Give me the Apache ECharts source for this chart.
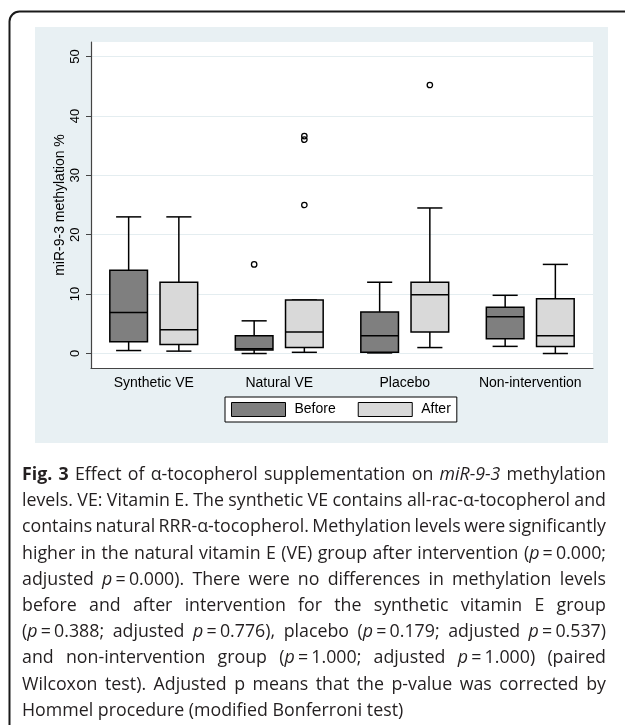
<!DOCTYPE html>
<html><head><meta charset="utf-8">
<script src="https://cdn.jsdelivr.net/npm/echarts@6/dist/echarts.min.js"></script>
<style>html,body{margin:0;padding:0;background:#fff}#c{width:625px;height:725px}</style>
</head><body><div id="c"></div>
<script>
// ---------- data ----------
const categories = ['Synthetic VE', 'Natural VE', 'Placebo', 'Non-intervention'];
// each box: [lower whisker, Q1, median, Q3, upper whisker]
const beforeBoxes = [
  [0.5, 2.0, 6.9, 14.0, 23.0],
  [0.0, 0.6, 0.8, 3.0, 5.5],
  [0.1, 0.2, 3.0, 7.0, 12.0],
  [1.2, 2.5, 6.2, 7.8, 9.8]
];
const afterBoxes = [
  [0.4, 1.5, 4.0, 12.0, 23.0],
  [0.2, 1.0, 3.6, 9.0, 9.0],
  [1.0, 3.6, 9.9, 12.0, 24.5],
  [0.0, 1.2, 3.0, 9.2, 15.0]
];
// outliers: [category index, value]
const beforeOutliers = [[1, 15.0]];
const afterOutliers = [[1, 25.0], [1, 36.0], [1, 36.6], [2, 45.2]];
const yTicks = [0, 10, 20, 30, 40, 50];
const seriesNames = ['Before', 'After'];
const yTitle = 'miR-9-3 methylation %';
// '#' toggles bold, '*' toggles italic, '~' is a narrow (non-stretching) space
const captionLines = [
  '#Fig. 3# Effect of \u03b1-tocopherol supplementation on *miR-9-3* methylation',
  'levels. VE: Vitamin E. The synthetic VE contains all-rac-\u03b1-tocopherol and',
  'contains natural RRR-\u03b1-tocopherol. Methylation levels were significantly',
  'higher in the natural vitamin E (VE) group after intervention (*p*~=~0.000;',
  'adjusted *p*~=~0.000). There were no differences in methylation levels',
  'before and after intervention for the synthetic vitamin E group',
  '(*p*~=~0.388; adjusted *p*~=~0.776), placebo (*p*~=~0.179; adjusted *p*~=~0.537)',
  'and non-intervention group (*p*~=~1.000; adjusted *p*~=~1.000) (paired',
  'Wilcoxon test). Adjusted p means that the p-value was corrected by',
  'Hommel procedure (modified Bonferroni test)'
];

// ---------- helpers ----------
const FONT = 'Liberation Sans, Arial, sans-serif';
const CAP_FONT = 'Open Sans';
const CAP_SIZE = 17.8;
const CAP_LEFT = 22, CAP_RIGHT = 606, CAP_TOP = 475, CAP_STEP = 26.2;
const CAP_COLOR = '#231f20';

function boxRenderer(side, fill) {
  return function (params, api) {
    const cat = api.value(0);
    const band = api.size([1, 0])[0];
    const cx = api.coord([cat, 0])[0] + side * band * 0.2;
    const w = band * 0.3;
    const cap = w * 0.667;
    const y = i => api.coord([cat, api.value(i)])[1];
    const lo = y(1), q1 = y(2), med = y(3), q3 = y(4), hi = y(5);
    const st = { stroke: '#000', lineWidth: 1.5, fill: null };
    return {
      type: 'group', children: [
        { type: 'line', shape: { x1: cx, y1: q3, x2: cx, y2: hi }, style: st },
        { type: 'line', shape: { x1: cx - cap / 2, y1: hi, x2: cx + cap / 2, y2: hi }, style: st },
        { type: 'line', shape: { x1: cx, y1: q1, x2: cx, y2: lo }, style: st },
        { type: 'line', shape: { x1: cx - cap / 2, y1: lo, x2: cx + cap / 2, y2: lo }, style: st },
        { type: 'rect', shape: { x: cx - w / 2, y: q3, width: w, height: q1 - q3 }, style: { fill: fill, stroke: '#000', lineWidth: 1.5 } },
        { type: 'line', shape: { x1: cx - w / 2, y1: med, x2: cx + w / 2, y2: med }, style: st }
      ]
    };
  };
}
function outlierRenderer(side) {
  return function (params, api) {
    const cat = api.value(0);
    const band = api.size([1, 0])[0];
    const p = api.coord([cat, api.value(1)]);
    return { type: 'circle', shape: { cx: p[0] + side * band * 0.2, cy: p[1], r: 2.7 }, style: { fill: 'none', stroke: '#000', lineWidth: 1.3 } };
  };
}

// caption layout (justified)
const ctx = document.createElement('canvas').getContext('2d');
function fontStr(r) { return (r.i ? 'italic ' : '') + (r.b ? 'bold ' : '') + CAP_SIZE + 'px "' + CAP_FONT + '"'; }
function parseLine(s) {
  const words = []; let cur = []; let bold = false, ital = false; let buf = '';
  const flush = () => { if (buf) { cur.push({ t: buf, b: bold, i: ital }); buf = ''; } };
  for (const ch of s) {
    if (ch === '#') { flush(); bold = !bold; }
    else if (ch === '*') { flush(); ital = !ital; }
    else if (ch === '~') { flush(); cur.push({ t: '', skip: CAP_SIZE * 0.18 }); }
    else if (ch === ' ') { flush(); if (cur.length) words.push(cur); cur = []; }
    else buf += ch;
  }
  flush(); if (cur.length) words.push(cur);
  return words;
}
const captionElems = [];
captionLines.forEach((line, li) => {
  const words = parseLine(line);
  const widths = words.map(w => w.reduce((s, r) => {
    if (r.skip) { r.w = r.skip; } else { ctx.font = fontStr(r); r.w = ctx.measureText(r.t).width; }
    return s + r.w;
  }, 0));
  const total = widths.reduce((a, b) => a + b, 0);
  ctx.font = fontStr({}); const spaceW = ctx.measureText(' ').width;
  const last = li === captionLines.length - 1;
  const gap = last ? spaceW : (CAP_RIGHT - CAP_LEFT - total) / (words.length - 1);
  let x = CAP_LEFT;
  const yy = CAP_TOP + li * CAP_STEP;
  words.forEach(w => {
    w.forEach(r => {
      if (!r.skip) {
        captionElems.push({
          type: 'text', x: x, y: yy, silent: true,
          style: { text: r.t, fontFamily: CAP_FONT, fontSize: CAP_SIZE, fontWeight: r.b ? 'bold' : 'normal', fontStyle: r.i ? 'italic' : 'normal', fill: CAP_COLOR, textVerticalAlign: 'middle', textAlign: 'left' }
        });
      }
      x += r.w;
    });
    x += gap;
  });
});

// ---------- chart ----------
const chart = echarts.init(document.getElementById('c'), null, { renderer: 'canvas' });
chart.setOption({
  backgroundColor: '#ffffff',
  animation: false,
  graphic: [
    { type: 'rect', z: -10, silent: true, shape: { x: 35, y: 27, width: 573, height: 416 }, style: { fill: '#e8f0f3' } },
    { type: 'rect', z: -9, silent: true, shape: { x: 9.5, y: 11.5, width: 720, height: 800, r: 10 }, style: { fill: 'none', stroke: '#1a1a1a', lineWidth: 2 } }
  ].concat(captionElems),
  grid: { left: 91, right: 32, top: 42, bottom: 357, show: true, backgroundColor: '#ffffff', borderWidth: 0 },
  legend: {
    left: 225, top: 397, orient: 'horizontal',
    padding: [5, 6, 5, 6], itemGap: 22, itemWidth: 54, itemHeight: 14,
    backgroundColor: '#fff', borderColor: '#000', borderWidth: 1, borderRadius: 0,
    selectedMode: false,
    textStyle: { fontFamily: FONT, fontSize: 14, color: '#000', padding: [0, 0, 0, 4] },
    data: [
      { name: seriesNames[0], icon: 'rect', itemStyle: { color: '#7f7f7f', borderColor: '#000', borderWidth: 1 } },
      { name: seriesNames[1], icon: 'rect', itemStyle: { color: '#d9d9d9', borderColor: '#000', borderWidth: 1 } }
    ]
  },
  xAxis: {
    type: 'category', data: categories,
    axisLine: { onZero: false, lineStyle: { color: '#444', width: 1.2 } },
    axisTick: { show: false },
    axisLabel: { interval: 0, fontFamily: FONT, fontSize: 14, color: '#000', margin: 8 },
    splitLine: { show: false }
  },
  yAxis: {
    type: 'value', min: -2.44, max: 52.44,
    name: yTitle, nameLocation: 'middle', nameGap: 24, nameMoveOverlap: false,
    nameTextStyle: { fontFamily: FONT, fontSize: 14, color: '#000' },
    axisLine: { show: true, lineStyle: { color: '#444', width: 1.2 } },
    axisTick: { show: true, length: 5, customValues: yTicks, lineStyle: { color: '#444', width: 1 } },
    axisLabel: { customValues: yTicks, rotate: 90, fontFamily: FONT, fontSize: 13, color: '#000', margin: 9 },
    splitLine: { show: true, lineStyle: { color: '#e4edf0', width: 1 } }
  },
  series: [
    { name: seriesNames[0], type: 'custom', renderItem: boxRenderer(-1, '#7f7f7f'), itemStyle: { color: '#7f7f7f' },
      encode: { x: 0, y: [1, 2, 3, 4, 5] }, data: beforeBoxes.map((b, i) => [i].concat(b)), z: 3 },
    { name: seriesNames[1], type: 'custom', renderItem: boxRenderer(1, '#d9d9d9'), itemStyle: { color: '#d9d9d9' },
      encode: { x: 0, y: [1, 2, 3, 4, 5] }, data: afterBoxes.map((b, i) => [i].concat(b)), z: 3 },
    { name: 'Before outliers', type: 'custom', renderItem: outlierRenderer(-1), encode: { x: 0, y: 1 }, data: beforeOutliers, z: 4 },
    { name: 'After outliers', type: 'custom', renderItem: outlierRenderer(1), encode: { x: 0, y: 1 }, data: afterOutliers, z: 4 }
  ]
});
</script></body></html>
